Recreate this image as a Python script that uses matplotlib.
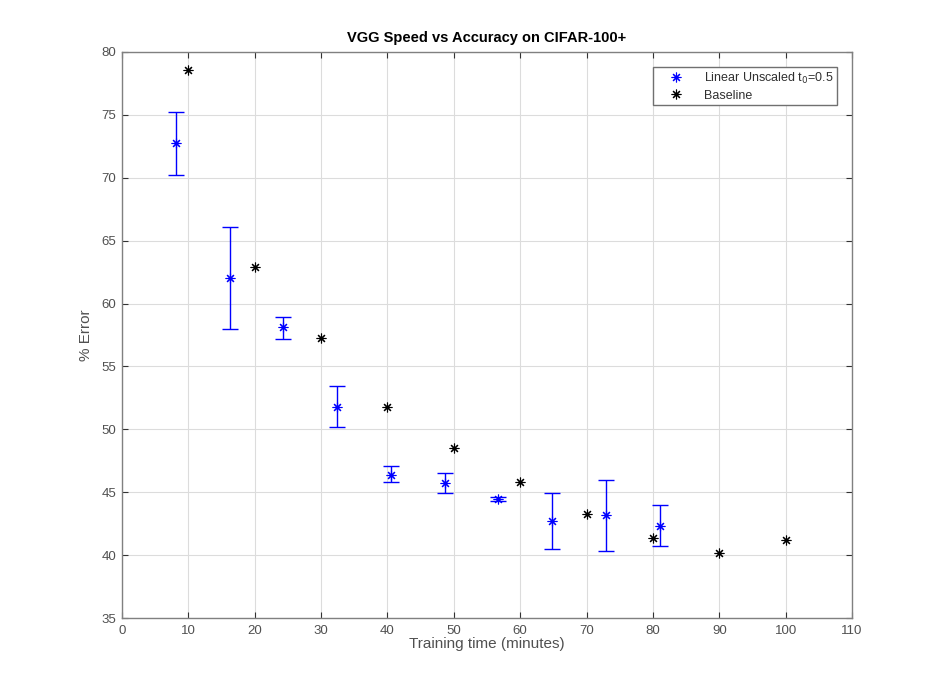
import matplotlib
matplotlib.use('Agg')
import matplotlib.pyplot as plt
import numpy as np

plt.rcParams['font.family'] = ['Liberation Sans', 'DejaVu Sans']

# linear unscaled t0=0.5 runs (mean, upper, lower)
lin_time = [8.1, 16.2, 24.3, 32.4, 40.5, 48.6, 56.7, 64.8, 72.9, 81.0]
lin_err = [72.8, 62.0, 58.1, 51.8, 46.4, 45.7, 44.45, 42.7, 43.15, 42.35]
lin_hi = [75.2, 66.1, 58.9, 53.45, 47.05, 46.5, 44.6, 44.9, 46.0, 44.0]
lin_lo = [70.25, 57.95, 57.2, 50.2, 45.85, 44.9, 44.3, 40.45, 40.3, 40.7]

# baseline
base_time = [10, 20, 30, 40, 50, 60, 70, 80, 90, 100]
base_err = [78.55, 62.9, 57.3, 51.75, 48.55, 45.85, 43.3, 41.4, 40.15, 41.2]

fig = plt.figure(figsize=(9.41, 6.94), dpi=100)
ax = fig.add_axes([0.1297, 0.1095, 0.7757, 0.8156])

lin_err = np.array(lin_err)
yerr = [lin_err - np.array(lin_lo), np.array(lin_hi) - lin_err]
ast = (8, 2, 0)
ax.errorbar(lin_time, lin_err, yerr=yerr, fmt='none', ecolor='blue',
            elinewidth=1, capsize=6, capthick=1, zorder=3)
ax.plot(lin_time, lin_err, linestyle='none', marker=ast, color='blue',
        markersize=7, markeredgewidth=0.8, label='Linear Unscaled t$_0$=0.5', zorder=4)
ax.plot(base_time, base_err, linestyle='none', marker=ast, color='black',
        markersize=7, markeredgewidth=0.8, label='Baseline', zorder=4)

gray = '#505050'
ax.set_xlim(0, 110)
ax.set_ylim(35, 80)
ax.set_xticks(np.arange(0, 111, 10))
ax.set_yticks(np.arange(35, 81, 5))
ax.grid(True, color='#dcdcdc', linewidth=0.8)
ax.set_axisbelow(True)
ax.tick_params(direction='in', top=True, right=True, labelsize=9.5, length=4,
               color='#333333', labelcolor=gray)
ax.tick_params(axis='x', pad=5)
ax.tick_params(axis='y', pad=4)
for s in ax.spines.values():
    s.set_linewidth(1.0)
    s.set_color('#808080')

ax.set_xlabel('Training time (minutes)', fontsize=11, labelpad=0, color=gray)
ax.set_ylabel('% Error', fontsize=11, color=gray, labelpad=6)
ax.set_title('VGG Speed vs Accuracy on CIFAR-100+', fontsize=10.5, fontweight='bold', pad=7)

leg = ax.legend(loc='upper right', fontsize=9, fancybox=False, edgecolor='#707070',
                framealpha=1, borderaxespad=1.2, handletextpad=0.6, borderpad=0.3,
                labelspacing=0.3, handlelength=3.2)
leg.get_frame().set_linewidth(1.0)
for t in leg.get_texts():
    t.set_color('#303030')

fig.savefig('out.png', dpi=100)
